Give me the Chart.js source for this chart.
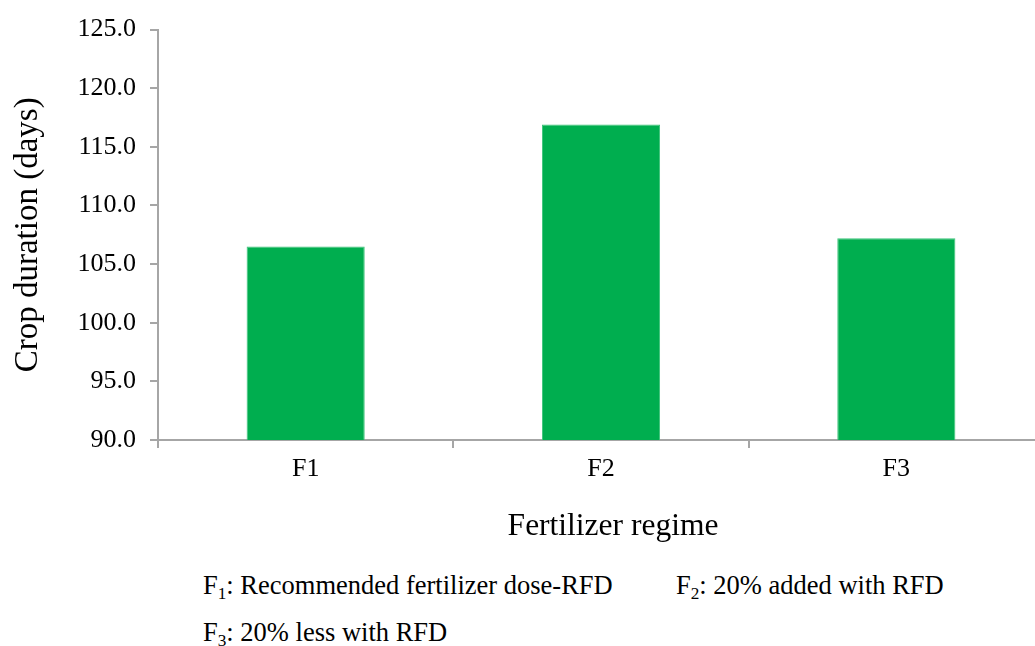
<!DOCTYPE html>
<html>
<head>
<meta charset="utf-8">
<script src="https://cdn.jsdelivr.net/npm/chart.js@4"></script>
<style>
  html, body { margin: 0; padding: 0; background: #fff; overflow: hidden; width: 1035px; height: 646px; }
  #wrap { position: relative; width: 1035px; height: 646px; overflow: hidden; }
  canvas { position: absolute; left: 0; top: 0; }
  .note { position: absolute; font-family: 'Liberation Serif', 'Times New Roman', serif; font-size: 26.5px; line-height: 30px; color: #000; white-space: nowrap; }
  .note sub { font-size: 0.65em; vertical-align: -0.3em; line-height: 0; }
  .xtitle { position: absolute; left: 613px; top: 507px; transform: translateX(-50%); font-family: 'Liberation Serif', 'Times New Roman', serif; font-size: 31.5px; line-height: 36px; color: #000; white-space: nowrap; }
</style>
</head>
<body>
<div id="wrap">
  <canvas id="chart" width="1050" height="544"></canvas>
  <div class="xtitle">Fertilizer regime</div>
  <div class="note" style="left:203px; top:570px;">F<sub>1</sub>: Recommended fertilizer dose-RFD</div>
  <div class="note" style="left:676px; top:570px;">F<sub>2</sub>: 20% added with RFD</div>
  <div class="note" style="left:203px; top:617px;">F<sub>3</sub>: 20% less with RFD</div>
</div>
<script>
// data
const regimes = ['F1', 'F2', 'F3'];
const cropDuration = [106.5, 116.9, 107.2];
const yTicks = [90, 95, 100, 105, 110, 115, 120, 125];

const serif = "'Liberation Serif', 'Times New Roman', serif";
const axisGray = '#a6a6a6';

new Chart(document.getElementById('chart'), {
    type: 'bar',
    data: {
        labels: regimes,
        datasets: [{
            data: cropDuration,
            backgroundColor: '#00ae4f',
            borderColor: '#3cc47a',
            borderWidth: 1,
            categoryPercentage: 1,
            barPercentage: 0.4,
        }],
    },
    options: {
        responsive: false,
        animation: false,
        layout: { padding: { top: 28, left: 0, right: 6, bottom: 0 } },
        plugins: {
            legend: { display: false },
            tooltip: { enabled: false },
        },
        scales: {
            x: {
                // axis title is the html line below the canvas
                afterFit: (s) => { s.height = 104; },
                grid: {
                    drawOnChartArea: false,
                    color: axisGray,
                    lineWidth: 2,
                    tickLength: 8,
                    offset: true,
                },
                border: { color: axisGray, width: 2 },
                ticks: {
                    color: '#000',
                    padding: 6,
                    font: { family: serif, size: 26 },
                },
            },
            y: {
                min: 90,
                max: 125,
                afterFit: (s) => { s.width = 158; },
                afterBuildTicks: (s) => { s.ticks = yTicks.map(v => ({ value: v })); },
                grid: {
                    drawOnChartArea: false,
                    color: axisGray,
                    lineWidth: 2,
                    tickLength: 8,
                },
                border: { color: axisGray, width: 2 },
                ticks: {
                    color: '#000',
                    padding: 14,
                    font: { family: serif, size: 26 },
                    callback: (v) => Number(v).toFixed(1),
                },
                title: {
                    display: true,
                    text: 'Crop duration (days)',
                    color: '#000',
                    padding: { top: 9, bottom: 0 },
                    font: { family: serif, size: 33 },
                },
            },
        },
    },
});
</script>
</body>
</html>
